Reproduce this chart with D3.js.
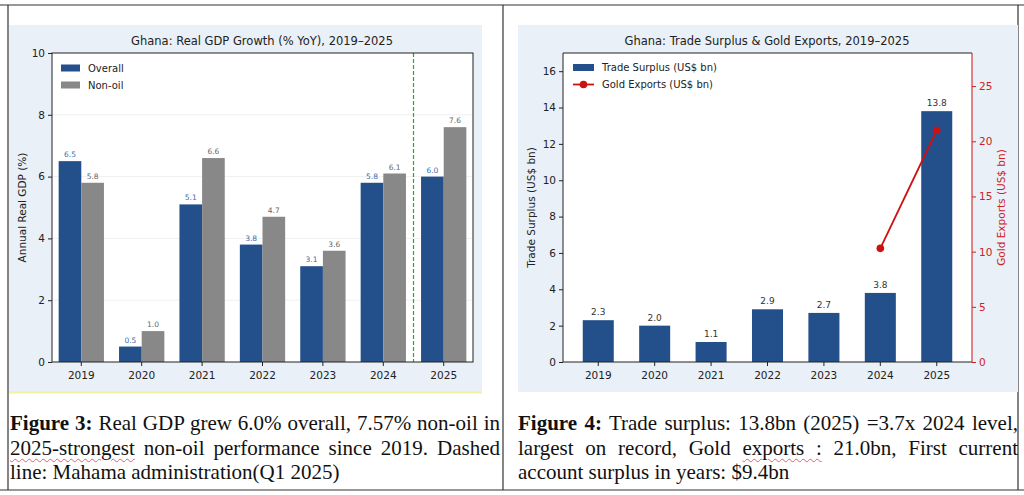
<!DOCTYPE html>
<html><head><meta charset="utf-8">
<script src="https://cdn.jsdelivr.net/npm/d3@7"></script>
<style>
body{margin:0;background:#fff;width:1024px;height:495px;overflow:hidden;position:relative;font-family:"DejaVu Sans",sans-serif}
.cap{position:absolute;font-family:"Liberation Serif",serif;font-size:21px;line-height:24.5px;text-align:justify;color:#111}
.wavy{text-decoration:underline wavy #e06070;text-decoration-thickness:1px;text-underline-offset:3px}
</style></head><body>
<svg id="s" width="1024" height="495" style="position:absolute;left:0;top:0"></svg>
<div class="cap" style="left:10px;top:411px;width:490px"><b>Figure 3:</b> Real GDP grew 6.0% overall, 7.57% non-oil in <span class="wavy">2025-strongest</span> non-oil performance since 2019. Dashed line: Mahama administration(Q1 2025)</div>
<div class="cap" style="left:518px;top:411px;width:500px"><b>Figure 4:</b> Trade surplus: 13.8bn (2025) =3.7x 2024 level, largest on record, Gold <span class="wavy">exports :</span> 21.0bn, First current account surplus in years: $9.4bn</div>
<script>
const years=["2019","2020","2021","2022","2023","2024","2025"];
const gdpOverall=[6.5,0.5,5.1,3.8,3.1,5.8,6.0];
const gdpNonOil=[5.8,1.0,6.6,4.7,3.6,6.1,7.6];
const tradeSurplus=[2.3,2.0,1.1,2.9,2.7,3.8,13.8];
const goldYears=["2024","2025"];
const goldExports=[10.3,21.0];
const gdpTicks=[0,2,4,6,8,10];
const tradeTicks=[0,2,4,6,8,10,12,14,16];
const goldTicks=[0,5,10,15,20,25];

const svg=d3.select("#s");
const blue="#234f8a",grey="#888888",red="#cc1111";
const g0=svg.append("g").attr("stroke","#333").attr("stroke-width",1.2);
[[0,5,1024,5],[0,490,1024,490],[8,5,8,490],[503,5,503,490],[1018,5,1018,490]].forEach(l=>g0.append("line").attr("x1",l[0]).attr("y1",l[1]).attr("x2",l[2]).attr("y2",l[3]));

function panel(x0,x1){svg.append("rect").attr("x",x0).attr("y",25).attr("width",x1-x0).attr("height",367).attr("fill","#e9f0f7");}
panel(9,482);panel(518,1018);
svg.append("line").attr("x1",9).attr("x2",482).attr("y1",392.5).attr("y2",392.5).attr("stroke","#f3f0a0").attr("stroke-width",2);

function axStyle(g,col){g.selectAll("text").attr("font-family","DejaVu Sans").attr("font-size",10.5).attr("fill",col||"#222");g.selectAll("line").attr("stroke",col||"#222");g.select(".domain").remove();}

// ---- Chart 1
{
const L=52,R=473,T=53,B=362;
svg.append("rect").attr("x",L).attr("y",T).attr("width",R-L).attr("height",B-T).attr("fill","#fff");
const x=d3.scaleBand().domain(years).range([L,R]).paddingInner(0.25).paddingOuter(0.11);
const y=d3.scaleLinear().domain([0,10]).range([B,T]);
svg.append("g").selectAll("line").data(gdpTicks.slice(1,-1)).join("line").attr("x1",L).attr("x2",R).attr("y1",d=>y(d)).attr("y2",d=>y(d)).attr("stroke","#f0f0f0");
const bw=x.bandwidth()/2;
const g=svg.append("g");
years.forEach((yr,i)=>{
 g.append("rect").attr("x",x(yr)).attr("y",y(gdpOverall[i])).attr("width",bw).attr("height",B-y(gdpOverall[i])).attr("fill",blue);
 g.append("rect").attr("x",x(yr)+bw).attr("y",y(gdpNonOil[i])).attr("width",bw).attr("height",B-y(gdpNonOil[i])).attr("fill",grey);
 g.append("text").attr("x",x(yr)+bw/2).attr("y",y(gdpOverall[i])-4).attr("text-anchor","middle").attr("font-size",7.5).attr("fill","#3b6cb0").text(gdpOverall[i].toFixed(1));
 g.append("text").attr("x",x(yr)+bw*1.5).attr("y",y(gdpNonOil[i])-4).attr("text-anchor","middle").attr("font-size",7.5).attr("fill","#666").text(gdpNonOil[i].toFixed(1));
});
const dx=(x("2024")+x.bandwidth()+x("2025"))/2;
svg.append("line").attr("x1",dx).attr("x2",dx).attr("y1",T).attr("y2",B).attr("stroke","#22aa33").attr("stroke-dasharray","4,2").attr("stroke-width",1.2);
svg.append("rect").attr("x",L).attr("y",T).attr("width",R-L).attr("height",B-T).attr("fill","none").attr("stroke","#222").attr("stroke-width",1);
axStyle(svg.append("g").attr("transform",`translate(${L},0)`).call(d3.axisLeft(y).tickValues(gdpTicks).tickSize(4).tickFormat(d3.format("d"))));
axStyle(svg.append("g").attr("transform",`translate(0,${B})`).call(d3.axisBottom(x).tickSize(4).tickPadding(6)));
svg.append("text").attr("transform",`translate(26,${(T+B)/2}) rotate(-90)`).attr("text-anchor","middle").attr("font-size",10.5).attr("fill","#222").text("Annual Real GDP (%)");
svg.append("text").attr("x",262).attr("y",45).attr("text-anchor","middle").attr("font-size",11.5).attr("fill","#222").text("Ghana: Real GDP Growth (% YoY), 2019–2025");
[["Overall",blue,68],["Non-oil",grey,85]].forEach(d=>{svg.append("rect").attr("x",61).attr("y",d[2]-3.5).attr("width",19).attr("height",7).attr("fill",d[1]);svg.append("text").attr("x",88).attr("y",d[2]+3.5).attr("font-size",10).attr("fill","#222").text(d[0]);});
}
// ---- Chart 2
{
const L=563,R=972,T=53,B=362;
svg.append("rect").attr("x",L).attr("y",T).attr("width",R-L).attr("height",B-T).attr("fill","#fff");
const x=d3.scaleBand().domain(years).range([L,R]).paddingInner(0.45).paddingOuter(0.35);
const y=d3.scaleLinear().domain([0,17]).range([B,T]);
const y2=d3.scaleLinear().domain([0,28]).range([B,T]);
const g=svg.append("g");
years.forEach((yr,i)=>{
 g.append("rect").attr("x",x(yr)).attr("y",y(tradeSurplus[i])).attr("width",x.bandwidth()).attr("height",B-y(tradeSurplus[i])).attr("fill",blue);
 g.append("text").attr("x",x(yr)+x.bandwidth()/2).attr("y",y(tradeSurplus[i])-5).attr("text-anchor","middle").attr("font-size",9).attr("fill","#333").text(tradeSurplus[i].toFixed(1));
});
const cx=d=>x(d)+x.bandwidth()/2;
svg.append("path").datum(goldYears.map((d,i)=>[cx(d),y2(goldExports[i])])).attr("d",d3.line()).attr("stroke",red).attr("stroke-width",1.8).attr("fill","none");
svg.selectAll(".gd").data(goldYears).join("circle").attr("cx",d=>cx(d)).attr("cy",(d,i)=>y2(goldExports[i])).attr("r",3.8).attr("fill",red);
svg.append("path").attr("d",`M${L},${T}H${R}`).attr("stroke","#222");
svg.append("path").attr("d",`M${L},${T}V${B}H${R}`).attr("stroke","#222").attr("fill","none");
svg.append("path").attr("d",`M${R},${T}V${B}`).attr("stroke",red);
axStyle(svg.append("g").attr("transform",`translate(${L},0)`).call(d3.axisLeft(y).tickValues(tradeTicks).tickSize(4).tickFormat(d3.format("d"))));
axStyle(svg.append("g").attr("transform",`translate(${R},0)`).call(d3.axisRight(y2).tickValues(goldTicks).tickSize(4).tickFormat(d3.format("d"))),"#cc2222");
axStyle(svg.append("g").attr("transform",`translate(0,${B})`).call(d3.axisBottom(x).tickSize(4).tickPadding(6)));
svg.append("text").attr("transform",`translate(535,${(T+B)/2}) rotate(-90)`).attr("text-anchor","middle").attr("font-size",10.5).attr("fill","#222").text("Trade Surplus (US$ bn)");
svg.append("text").attr("transform",`translate(1005,${(T+B)/2}) rotate(-90)`).attr("text-anchor","middle").attr("font-size",10.5).attr("fill","#cc2222").text("Gold Exports (US$ bn)");
svg.append("text").attr("x",767).attr("y",45).attr("text-anchor","middle").attr("font-size",11.5).attr("fill","#222").text("Ghana: Trade Surplus & Gold Exports, 2019–2025");
svg.append("rect").attr("x",573).attr("y",64).attr("width",21).attr("height",7).attr("fill",blue);
svg.append("text").attr("x",602).attr("y",71).attr("font-size",10).attr("fill","#222").text("Trade Surplus (US$ bn)");
svg.append("line").attr("x1",573).attr("x2",594).attr("y1",84.5).attr("y2",84.5).attr("stroke",red).attr("stroke-width",1.8);
svg.append("circle").attr("cx",583.5).attr("cy",84.5).attr("r",3.8).attr("fill",red);
svg.append("text").attr("x",602).attr("y",88).attr("font-size",10).attr("fill","#222").text("Gold Exports (US$ bn)");
}
</script></body></html>
